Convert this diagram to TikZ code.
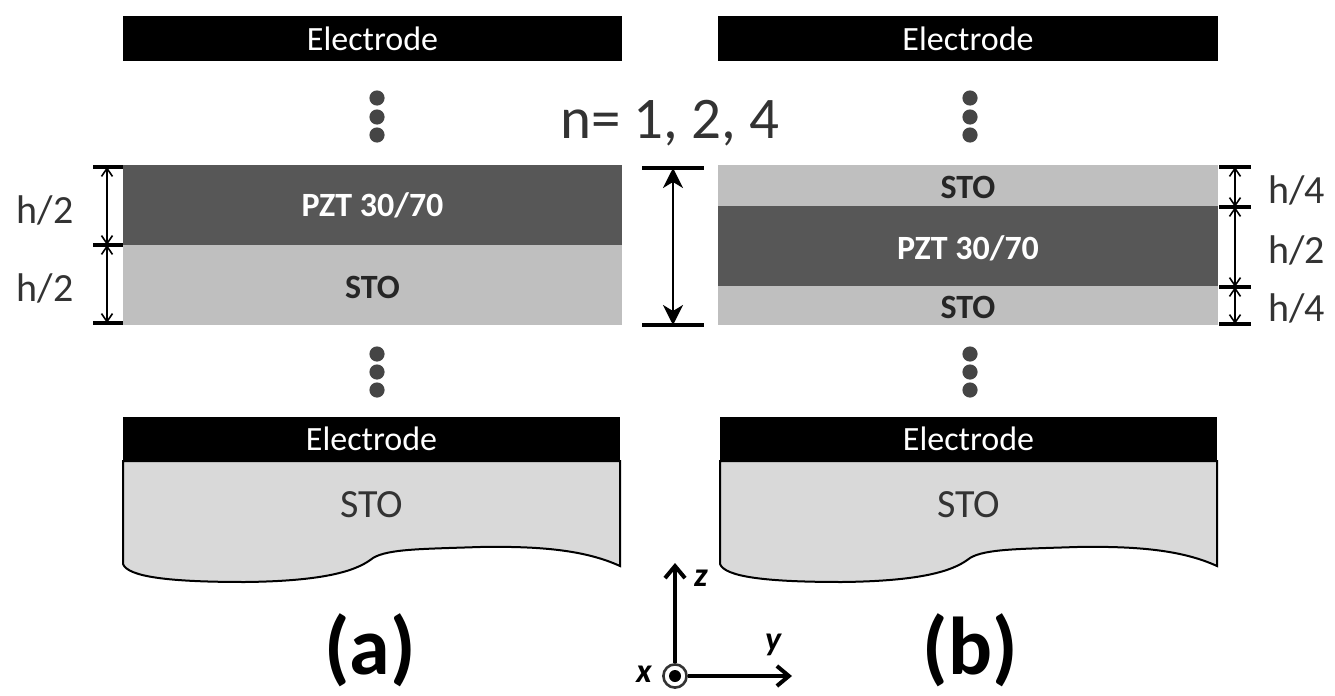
\documentclass[tikz,border=0pt]{standalone}
\usepackage{fontspec}
\setmainfont{Carlito}
\usetikzlibrary{arrows.meta}
\definecolor{pztc}{HTML}{575757}
\definecolor{stoc}{HTML}{BFBFBF}
\definecolor{subc}{HTML}{D9D9D9}
\definecolor{dotc}{HTML}{454545}
\definecolor{txtc}{HTML}{333333}
\tikzset{
  eltext/.style={text=white,font=\fontsize{17pt}{20pt}\selectfont,inner sep=0pt},
  laytext/.style={font=\bfseries\fontsize{17pt}{20pt}\selectfont,inner sep=0pt},
  subtext/.style={text=txtc,font=\fontsize{20pt}{24pt}\selectfont,inner sep=0pt},
  dimtext/.style={text=txtc,font=\fontsize{20pt}{24pt}\selectfont,inner sep=0pt},
  tickbar/.style={line width=1.6pt,black},
  smalldim/.style={line width=0.8pt,{Straight Barb[length=4pt,width=5.5pt]}-{Straight Barb[length=4pt,width=5.5pt]}},
  bigdim/.style={line width=1.1pt,{Stealth[length=10pt,width=10pt,inset=3pt]}-{Stealth[length=10pt,width=10pt,inset=3pt]}},
  dotmark/.style={fill=dotc,draw=none},
  axisarrow/.style={line width=2pt,-{Straight Barb[length=6pt,width=10pt,line width=2pt]}},
  axlabel/.style={font=\bfseries\itshape\fontsize{17pt}{20pt}\selectfont,inner sep=0pt},
  panellabel/.style={font=\bfseries\fontsize{41pt}{48pt}\selectfont,inner sep=0pt},
  substrate/.style={fill=subc,draw=black,line width=1pt},
}
\begin{document}
\begin{tikzpicture}[x=0.5pt,y=-0.5pt]
\useasboundingbox (0,0) rectangle (1335,696);
% ---------- top electrodes ----------
\fill[black] (123,16) rectangle (622,61);
\node[eltext] (ea) at (372.5,38.5) {Electrode};
\fill[black] (718,16) rectangle (1218,61);
\node[eltext] (eb) at (968,38.5) {Electrode};
% ---------- dots ----------
\foreach \yy in {98,117,135}{
  \fill[dotmark] (377,\yy) circle[radius=3.8pt];
  \fill[dotmark] (970,\yy) circle[radius=3.8pt];
}
\foreach \yy in {354,372,390}{
  \fill[dotmark] (377,\yy) circle[radius=3.8pt];
  \fill[dotmark] (970,\yy) circle[radius=3.8pt];
}
% ---------- n label ----------
\node[text=txtc,font=\fontsize{29.5pt}{34pt}\selectfont,inner sep=0pt] (nl) at (670,123) {n= 1, 2, 4};
% ---------- layers (a) ----------
\fill[pztc] (123,165) rectangle (622,245);
\fill[stoc] (123,245) rectangle (622,325);
\node[laytext,text=white] (pa) at (372.5,205) {PZT 30/70};
\node[laytext,text=black!85] (sa) at (372.5,287) {STO};
% ---------- layers (b) ----------
\fill[stoc] (718,165) rectangle (1218,206);
\fill[pztc] (718,206) rectangle (1218,286);
\fill[stoc] (718,286) rectangle (1218,325);
\node[laytext,text=black!85] (sb1) at (968,187) {STO};
\node[laytext,text=white] (pb) at (968,248) {PZT 30/70};
\node[laytext,text=black!85] (sb2) at (968,307) {STO};
% ---------- dimensions (a) ----------
\coordinate (la1) at (107,167);
\coordinate (la2) at (107,245);
\coordinate (la3) at (107,323);
\foreach \c in {la1,la2,la3}{ \draw[tickbar] ([xshift=-7pt]\c) -- ([xshift=8pt]\c); }
\draw[smalldim] (la1) -- (la2);
\draw[smalldim] (la2) -- (la3);
\node[dimtext] (ha1) at (45,210) {h/2};
\node[dimtext] (ha2) at (45,288) {h/2};
% ---------- middle dimension ----------
\coordinate (m1) at (673,168);
\coordinate (m2) at (673,325);
\draw[tickbar] ([xshift=-15.5pt]m1) -- ([xshift=15.5pt]m1);
\draw[tickbar] ([xshift=-15.5pt]m2) -- ([xshift=15.5pt]m2);
\draw[bigdim] (m1) -- (m2);
% ---------- dimensions (b) ----------
\coordinate (lb1) at (1235,167);
\coordinate (lb2) at (1235,207);
\coordinate (lb3) at (1235,287);
\coordinate (lb4) at (1235,324);
\foreach \c in {lb1,lb2,lb3,lb4}{ \draw[tickbar] ([xshift=-8pt]\c) -- ([xshift=8pt]\c); }
\draw[smalldim] (lb1) -- (lb2);
\draw[smalldim] (lb2) -- (lb3);
\draw[smalldim] (lb3) -- (lb4);
\node[dimtext,anchor=west] (hb1) at (1268,190) {h/4};
\node[dimtext,anchor=west] (hb2) at (1268,250) {h/2};
\node[dimtext,anchor=west] (hb3) at (1268,308) {h/4};
% ---------- bottom electrodes and substrates ----------
\foreach \dx/\nm in {0/a,597/b}{
  \begin{scope}[xshift=\dx*0.5pt]
  \draw[substrate] (123,461) -- (620,461) -- (620,566)
     .. controls (585,550) and (540,546) .. (480,547)
     .. controls (420,549) and (388,549) .. (373,558)
     .. controls (360,568) and (335,581) .. (245,582)
     .. controls (170,582) and (128,577) .. (123,564) -- cycle;
  \fill[black] (123,417) rectangle (620,461);
  \node[eltext] (be\nm) at (371.5,439) {Electrode};
  \node[subtext] (st\nm) at (371.5,505) {STO};
  \end{scope}
}
% ---------- axes ----------
\coordinate (o) at (675,676);
\coordinate (zt) at (675,563);
\coordinate (yt) at (792,676);
\draw[axisarrow] ([yshift=6.5pt]o) -- (zt);
\draw[axisarrow] ([xshift=6.5pt]o) -- (yt);
\draw[line width=1.3pt,black!80] (o) circle[radius=5.8pt];
\fill[black] (o) circle[radius=3pt];
\node[axlabel] (zl) at (701,578) {z};
\node[axlabel] (yl) at (773,645) {y};
\node[axlabel] (xl) at (644,674) {x};
% ---------- panel labels ----------
\node[panellabel] (pla) at (370,650) {(a)};
\node[panellabel] (plb) at (970,650) {(b)};
\end{tikzpicture}
\end{document}
